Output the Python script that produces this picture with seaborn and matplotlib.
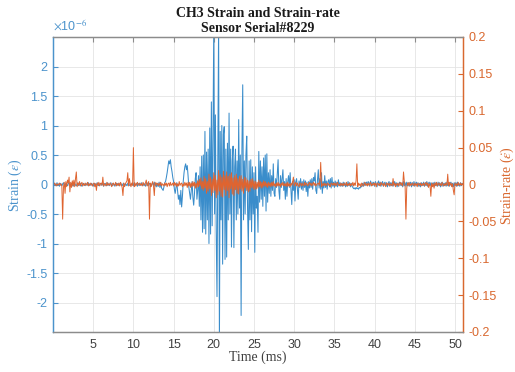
import numpy as np
import pandas as pd
import matplotlib
matplotlib.use("Agg")
import matplotlib.pyplot as plt
import seaborn as sns

# ---------------- data ----------------
# strain in units of 0.01e-6 (so 100 -> 1e-6), one sample per 0.1 ms from 0 to 51 ms
strain_txt = """
1 -2 2 0 -1 3 -2 1 -3 2
0 -2 1 3 -1 -3 2 0 -2 1
3 -1 -2 2 0 -3 1 2 -1 -2
1 3 -2 0 2 -1 -3 1 2 -1
-2 2 0 -1 3 -2 1 -1 2 0
-3 1 2 -2 0 3 -1 -2 1 2
-1 0 2 -3 1 2 -1 -2 3 0
-2 1 3 -1 -2 2 0 -3 1 2
-1 2 -2 0 3 -1 -2 1 2 -3
1 0 -2 2 3 -1 -2 1 0 2
-2 3 -1 0 2 -3 1 2 -2 0
3 -1 -2 2 0 -3 1 3 -2 -1
2 0 -3 1 2 -1 4 -3 2 -4
2 -3 4 -5 3 -6 -8 -10 -4 3
5 12 20 30 40 35 42 30 22 12
5 -8 -15 -5 3 -12 -25 -18 -34 -10
-38 -20 5 20 30 35 25 32 15 -5
-15 -25 -10 5 -22 -35 -15 10 20 -25
-10 15 -37 30 -60 48 -81 50 -75 90
-84 55 -60 60 -100 96 -84 140 -70 80
270 -50 118 -80 -190 40 270 -270 90 -60
100 -135 85 98 -127 60 -123 70 -60 121
-50 60 -106 40 65 -107 30 60 -60 40
-50 110 -40 50 -222 60 169 -60 40 -50
50 82 -40 -110 40 -60 42 -80 30 -50
20 -115 30 -40 -20 -81 56 -30 40 -25
30 -37 45 -20 50 -45 52 -30 20 -15
25 -20 15 -10 35 -15 -20 10 -5 20
42 -10 -25 15 -5 10 25 -10 5 -25
10 -20 5 15 -5 20 -10 -34 5 -10
8 -28 5 10 -8 -25 6 -5 10 -8
5 -10 8 -5 6 -12 4 -20 5 -6
8 -5 10 -8 12 6 20 -10 -15 8
25 -6 10 -8 20 -15 5 -6 15 -5
6 -8 5 8 -4 10 -6 12 -3 4
-5 6 -3 4 -4 8 -2 3 -3 2
-3 4 -2 3 -4 2 -3 5 -2 3
-4 2 -3 -5 -7 -6 -8 -5 -7 -6
-8 -5 -6 -3 -4 2 -3 4 -2 3
4 -2 5 3 -3 6 2 -2 4 3
-3 5 2 -4 3 6 -2 4 -3 2
5 -3 2 4 -2 3 -4 2 5 -3
3 -2 4 -3 2 5 -2 3 -4 2
-3 4 2 -2 3 -4 5 -2 3 -3
4 -2 3 -3 2 4 -4 3 -2 5
-3 2 4 -2 3 -3 2 -4 3 2
-2 4 -3 3 -2 5 -3 2 4 -2
3 -4 2 3 -3 4 -2 2 -3 4
-2 3 -4 2 4 -3 2 -2 3 -3
4 -2 3 -3 2 4 -3 2 -4 3
-2 3 -3 4 -2 2 -3 3 -2 2 1
"""

# strain-rate in units of 0.001, one sample per 0.1 ms from 0 to 51 ms
rate_txt = """
1 -1 2 0 -2 1 -1 0 2 -1
1 -2 -47 -4 3 -12 4 -3 6 2
10 -10 3 -4 5 -2 6 -3 8 17
-3 2 -1 4 -2 1 3 -2 1 -1
2 -1 0 3 -2 1 -1 2 0 -2
1 2 -3 1 -8 2 -1 3 -2 1
2 -1 10 -2 1 0 -2 3 -1 1
-1 2 0 -3 1 2 -1 0 3 -2
1 -1 2 -2 3 0 -4 -15 2 -3
1 3 5 16 -2 8 1 -3 2 -1
50 -3 2 -2 1 3 -1 0 2 -1
1 -2 3 0 -1 2 6 -2 1 4
-47 2 -3 1 4 -2 -15 3 -1 2
1 -2 2 -1 3 -2 1 0 -2 2
-1 2 -3 1 2 -2 3 -1 0 2
-2 3 -1 2 -3 1 -2 4 -1 1
2 -3 1 -2 3 -1 2 -4 3 -2
3 -4 2 -3 4 -2 3 -5 2 -4
5 -3 7 -2 9 -6 4 -8 11 -5
8 -12 4 -9 14 -6 10 -15 7 -11
16 -8 12 -18 6 -14 19 -9 13 -16
10 -17 18 -7 12 -15 17 -8 11 -18
14 -6 16 -13 9 -15 12 -7 14 -12
8 -13 11 -6 12 -9 7 -12 10 -5
9 -8 6 -10 5 -9 7 -4 8 -6
5 -7 4 -6 3 -5 6 -3 4 -5
3 -4 5 -2 4 -3 2 -4 3 -2
2 -3 3 -2 4 -2 1 -3 2 -2
3 -2 1 -3 2 -1 3 -2 1 -2
2 -3 3 -2 1 -3 2 -1 3 10
-2 1 3 -2 2 -1 -3 2 1 -2
2 -1 -2 3 -1 2 0 -2 1 3
-1 2 -2 1 3 -1 2 -2 0 1
2 -1 5 30 -3 1 -2 2 -1 1
-2 1 2 -1 0 -3 2 1 -1 2
-1 2 -2 1 3 -1 0 -2 2 -1
1 -2 2 0 -1 3 -2 1 -1 2
-2 1 -1 3 -2 2 -1 5 28 -3
2 -1 1 -3 2 0 -2 1 3 -1
1 -2 2 -1 0 3 -2 1 -1 2
-1 2 -3 1 2 -1 1 -2 3 0
1 -2 2 -1 -3 2 1 -1 2 -2
1 0 -2 8 -1 2 -3 1 -1 2
-2 1 3 -1 2 -2 17 4 -3 -47
-5 2 -1 3 -2 1 -1 2 0 -2
2 -1 1 -3 2 0 -1 2 -2 1
-1 2 -2 1 3 -1 2 -4 1 -2
-16 2 -3 1 -5 2 -1 3 -2 1
2 -1 1 -2 3 0 -2 1 -1 2
-1 14 -2 3 -1 2 -3 1 -8 -14
2 -1 1 -2 3 0 -1 2 -1 1 0
"""

strain_vals = np.array(strain_txt.split(), dtype=float) * 1e-8
rate_vals = np.array(rate_txt.split(), dtype=float) * 1e-3
n = min(len(strain_vals), len(rate_vals))
strain_vals = strain_vals[:n]
rate_vals = rate_vals[:n]
time_ms = np.round(np.arange(n) * 0.1, 1)

x_ticks = [5, 10, 15, 20, 25, 30, 35, 40, 45, 50]
left_ticks = [-2, -1.5, -1, -0.5, 0, 0.5, 1, 1.5, 2]
left_tick_labels = ["-2", "-1.5", "-1", "-0.5", "0", "0.5", "1", "1.5", "2"]
right_ticks = [-0.2, -0.15, -0.1, -0.05, 0, 0.05, 0.1, 0.15, 0.2]
right_tick_labels = ["-0.2", "-0.15", "-0.1", "-0.05", "0", "0.05", "0.1", "0.15", "0.2"]

title_text = "CH3 Strain and Strain-rate\nSensor Serial#8229"

df = pd.DataFrame({"t": time_ms, "strain": strain_vals, "rate": rate_vals})

# ---------------- style ----------------
sns.set_style("white")
plt.rcParams["font.family"] = ["Liberation Sans", "DejaVu Sans"]
plt.rcParams["mathtext.fontset"] = "stix"

BLUE = "#3a8dcb"
ORANGE = "#df6430"
BLUE_TXT = "#4b93cc"
ORANGE_TXT = "#d9682f"
GRAY = "#404040"
SPINE = "#8c8c8c"

fig = plt.figure(figsize=(5.15, 3.72), dpi=100)
ax = fig.add_axes([53 / 515, 1 - 332 / 372, 410 / 515, 295 / 372])
ax2 = ax.twinx()

sns.lineplot(data=df, x="t", y="strain", ax=ax, color=BLUE, linewidth=0.75,
             errorbar=None, estimator=None)
sns.lineplot(data=df, x="t", y="rate", ax=ax2, color=ORANGE, linewidth=0.7,
             errorbar=None, estimator=None)

ax.set_xlim(0, 51)
ax.set_ylim(-2.5e-6, 2.5e-6)
ax2.set_ylim(-0.2, 0.2)

ax.set_xticks(x_ticks)
ax.set_xticklabels([str(v) for v in x_ticks])
ax.set_yticks([v * 1e-6 for v in left_ticks])
ax.set_yticklabels(left_tick_labels)
ax2.set_yticks(right_ticks)
ax2.set_yticklabels(right_tick_labels)

ax.grid(True, color="#e4e4e4", linewidth=0.6)
ax.set_axisbelow(True)

ax.tick_params(axis="x", direction="in", length=3.5, top=True, labelsize=9,
               labelcolor=GRAY, color=SPINE, pad=5)
ax.tick_params(axis="y", direction="in", length=3.5, labelsize=9,
               labelcolor=BLUE_TXT, color=BLUE_TXT, pad=4)
ax2.tick_params(axis="y", direction="in", length=3.5, labelsize=9,
                labelcolor=ORANGE_TXT, color=ORANGE_TXT, pad=4)

for a in (ax, ax2):
    a.spines["top"].set_color(SPINE)
    a.spines["bottom"].set_color(SPINE)
    a.spines["left"].set_color(BLUE_TXT)
    a.spines["right"].set_color(ORANGE_TXT)
    for s in a.spines.values():
        s.set_linewidth(0.9)

ax.set_xlabel("")
ax.set_ylabel("")
ax2.set_ylabel("")

serif = ["Liberation Serif", "DejaVu Serif"]
fig.text(258 / 515, 1 - 357 / 372, "Time (ms)", family=serif, fontsize=10,
         color=GRAY, ha="center", va="center")
fig.text(15 / 515, 1 - 185 / 372, r"Strain ($\epsilon$)", family=serif, fontsize=10,
         color=BLUE_TXT, ha="center", va="center", rotation=90)
fig.text(507 / 515, 1 - 186 / 372, r"Strain-rate ($\dot{\epsilon}$)", family=serif,
         fontsize=10, color=ORANGE_TXT, ha="center", va="center", rotation=90)

ax.text(0.0, 1.01, r"$\times$10$^{-6}$", transform=ax.transAxes, fontsize=9,
        color=BLUE_TXT, ha="left", va="bottom")

fig.text(258 / 515, 1 - 21 / 372, title_text, family=serif, fontweight="bold",
         fontsize=10, color="#1a1a1a", ha="center", va="center", linespacing=1.2)

fig.savefig("out.png", dpi=100)
